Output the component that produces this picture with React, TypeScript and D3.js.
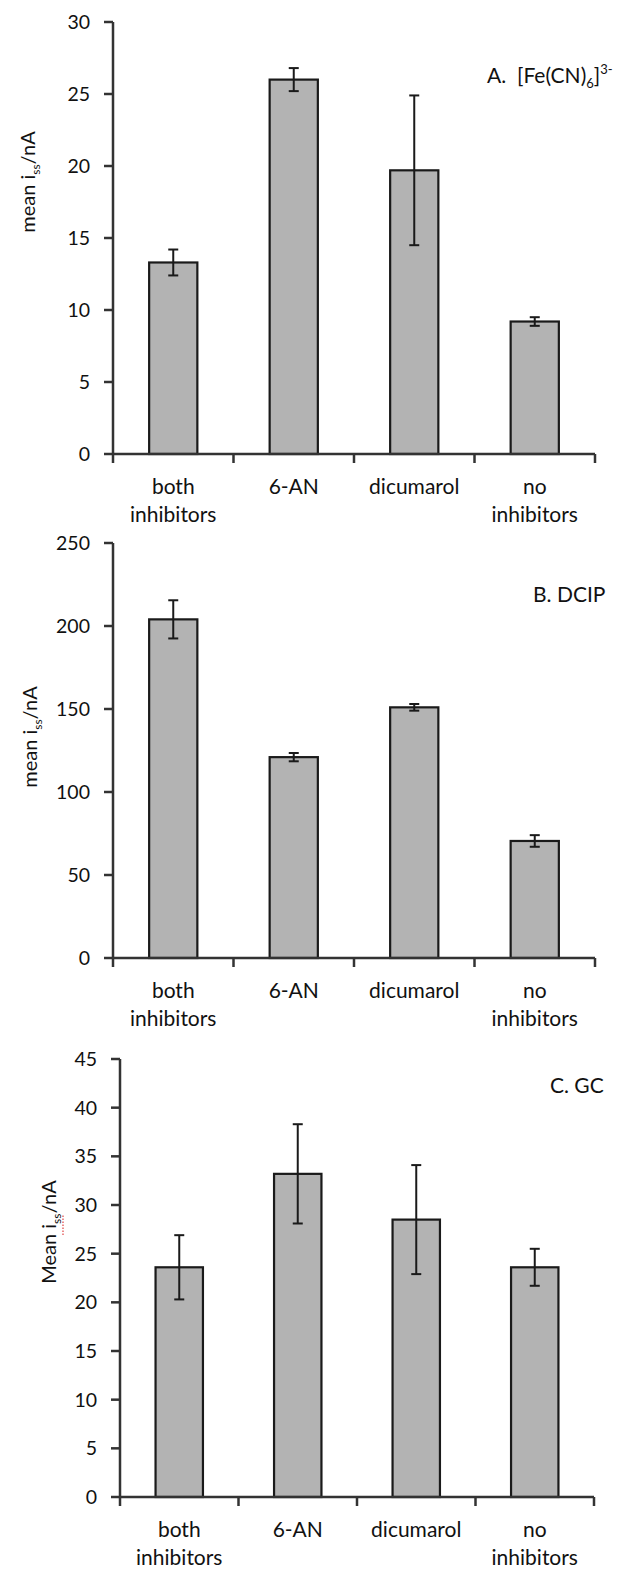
import { useMemo } from 'react';
import * as d3 from 'd3';

// category labels, split into lines
const categories = ['both inhibitors', '6-AN', 'dicumarol', 'no inhibitors'];
const categoryLines = [['both', 'inhibitors'], ['6-AN'], ['dicumarol'], ['no', 'inhibitors']];

// A. ferricyanide
const ferriMean = [13.3, 26.0, 19.7, 9.2];
const ferriErr = [0.9, 0.8, 5.2, 0.3];
// B. DCIP
const dcipMean = [204, 121, 151, 70.5];
const dcipErr = [11.5, 2.5, 2, 3.5];
// C. GC
const gcMean = [23.6, 33.2, 28.5, 23.6];
const gcErr = [3.3, 5.1, 5.6, 1.9];

const FONT = 'Lato, "Open Sans", sans-serif';

const panels = [
  {
    key: 'A', mean: ferriMean, err: ferriErr, max: 30, step: 5,
    x0: 113, x1: 595, top: 22, bottom: 454,
    title: { x: 487, y: 83 }, ylab: { x: 28, y: 182, word: 'mean', spell: false },
  },
  {
    key: 'B', mean: dcipMean, err: dcipErr, max: 250, step: 50,
    x0: 113, x1: 595, top: 543, bottom: 958,
    title: { x: 533, y: 602 }, ylab: { x: 30, y: 737, word: 'mean', spell: false },
  },
  {
    key: 'C', mean: gcMean, err: gcErr, max: 45, step: 5,
    x0: 120, x1: 594, top: 1059, bottom: 1497,
    title: { x: 550, y: 1093 }, ylab: { x: 49, y: 1232, word: 'Mean', spell: true },
  },
];

const Title = ({ k }) => {
  if (k === 'A') {
    return (
      <>
        A.{'\u00a0\u00a0'}[Fe(CN)<tspan fontSize={13} dy={5}>6</tspan>
        <tspan dy={-5}>]</tspan>
        <tspan fontSize={13} dy={-9}>3-</tspan>
      </>
    );
  }
  if (k === 'B') return <>B. DCIP</>;
  return <>C. GC</>;
};

const Panel = ({ p }) => {
  const x = useMemo(() => d3.scaleBand()
    .domain(categories)
    .range([p.x0, p.x1])
    .paddingInner(0.6)
    .paddingOuter(0.3), [p]);
  const y = d3.scaleLinear().domain([0, p.max]).range([p.bottom, p.top]);
  const ticks = d3.range(0, p.max + p.step / 2, p.step);
  const stepW = (p.x1 - p.x0) / categories.length;
  const capW = 5;

  return (
    <g>
      {/* bars */}
      {categories.map((c, i) => (
        <rect key={c}
          x={x(c)} y={y(p.mean[i])}
          width={x.bandwidth()} height={p.bottom - y(p.mean[i])}
          fill="#b3b3b3" stroke="#1a1a1a" strokeWidth={2.2} />
      ))}
      {/* error bars */}
      {categories.map((c, i) => {
        const cx = x(c) + x.bandwidth() / 2;
        const hi = y(p.mean[i] + p.err[i]);
        const lo = y(p.mean[i] - p.err[i]);
        return (
          <g key={c} stroke="#1a1a1a" strokeWidth={2}>
            <line x1={cx} x2={cx} y1={hi} y2={lo} />
            <line x1={cx - capW} x2={cx + capW} y1={hi} y2={hi} />
            <line x1={cx - capW} x2={cx + capW} y1={lo} y2={lo} />
          </g>
        );
      })}
      {/* y axis */}
      <line x1={p.x0} x2={p.x0} y1={p.top} y2={p.bottom} stroke="#333" strokeWidth={2.5} />
      {ticks.map((t) => (
        <g key={t}>
          <line x1={p.x0 - 9} x2={p.x0} y1={y(t)} y2={y(t)} stroke="#333" strokeWidth={2.5} />
          <text x={p.x0 - 23} y={y(t)} dy="0.36em" textAnchor="end"
            fontSize={19.5} fontFamily={FONT} fill="#111">{t}</text>
        </g>
      ))}
      {/* x axis */}
      <line x1={p.x0} x2={p.x1} y1={p.bottom} y2={p.bottom} stroke="#333" strokeWidth={2.5} />
      {d3.range(categories.length + 1).map((i) => (
        <line key={i} x1={p.x0 + i * stepW} x2={p.x0 + i * stepW}
          y1={p.bottom} y2={p.bottom + 9} stroke="#333" strokeWidth={2.5} />
      ))}
      {categories.map((c, i) => (
        <text key={c} x={x(c) + x.bandwidth() / 2} y={p.bottom + 40}
          textAnchor="middle" fontSize={21} fontFamily={FONT} fill="#111">
          {categoryLines[i].map((l, j) => (
            <tspan key={j} x={x(c) + x.bandwidth() / 2} dy={j === 0 ? 0 : 28}>{l}</tspan>
          ))}
        </text>
      ))}
      {/* title */}
      <text x={p.title.x} y={p.title.y} fontSize={21} fontFamily={FONT} fill="#111">
        <Title k={p.key} />
      </text>
      {/* y label */}
      <g transform={`translate(${p.ylab.x},${p.ylab.y}) rotate(-90)`}>
        <text textAnchor="middle" dy="0.35em" fontSize={20} fontFamily={FONT} fill="#111">
          {p.ylab.word} i<tspan fontSize={12} dy={5}>ss</tspan>
          <tspan dy={-5}>/nA</tspan>
        </text>
        {p.ylab.spell && (
          <line x1={-3} x2={17} y1={14} y2={14} stroke="#e04040" strokeWidth={1.2} strokeDasharray="1.5 1.5" />
        )}
      </g>
    </g>
  );
};

export default function App() {
  return (
    <svg width={638} height={1569} style={{ position: 'absolute', left: 0, top: 0, background: '#fff' }}>
      <rect width={638} height={1569} fill="#fff" />
      {panels.map((p) => <Panel key={p.key} p={p} />)}
    </svg>
  );
}
